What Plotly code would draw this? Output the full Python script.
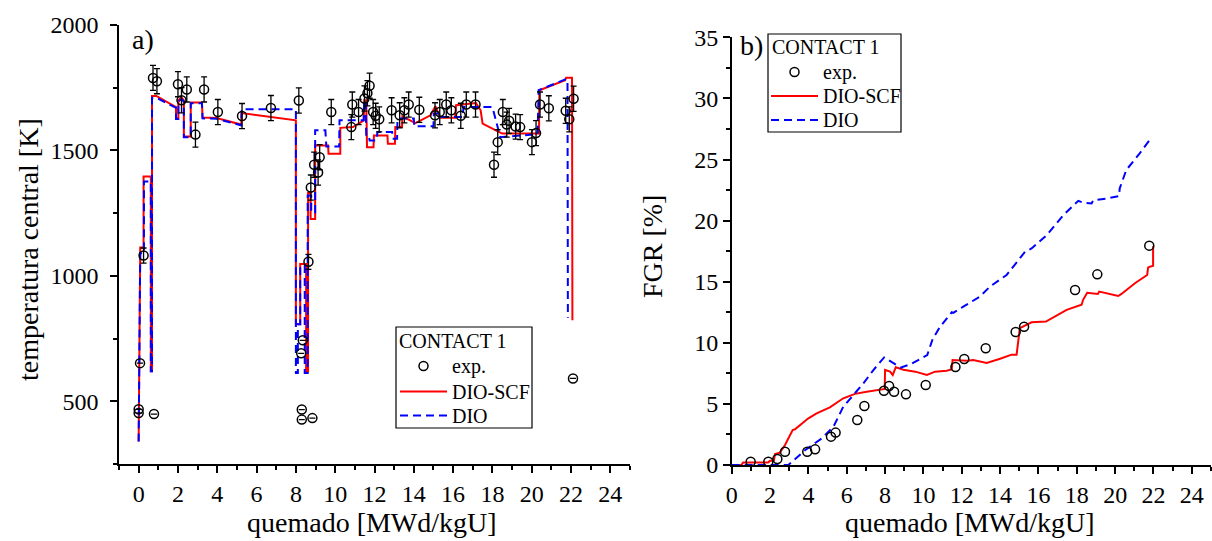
import plotly.graph_objects as go

SERIF = "Liberation Serif"

# ---- a) central temperature vs burnup ----
exp_bu_a = [0.0, 0.0, 0.07, 0.25, 0.78, 0.73, 0.93, 2.0, 2.18, 2.45, 2.89, 3.33, 4.03, 5.26, 6.73,
            8.15, 8.27, 8.35, 8.3, 8.3, 8.84, 8.64, 8.76, 8.93, 9.13, 9.21, 9.8, 10.82, 10.87, 11.19,
            11.49, 11.64, 11.75, 11.93, 12.06, 12.24, 12.87, 13.28, 13.52, 13.74, 14.28, 15.08,
            15.32, 15.65, 15.91, 16.39, 16.67, 17.14, 18.08, 18.27, 18.53, 18.73, 18.85, 19.18,
            19.41, 20.01, 20.22, 20.42, 20.87, 21.73, 21.91, 22.13, 22.1]
exp_tc = [453, 468, 652, 1081, 449, 1789, 1776, 1764, 1700, 1743, 1563, 1743, 1653, 1637, 1669,
          1699, 691, 743, 467, 427, 433, 1056, 1352, 1443, 1412, 1473, 1653, 1593, 1683, 1653,
          1707, 1728, 1758, 1653, 1638, 1624, 1660, 1640, 1660, 1683, 1662, 1640,
          1653, 1683, 1660, 1638, 1683, 1683, 1443, 1533, 1653, 1603, 1618, 1595,
          1593, 1533, 1569, 1683, 1668, 1658, 1624, 1706, 591]
exp_tc_err = [0, 0, 0, 30, 0, 50, 50, 50, 50, 50, 50, 50, 50, 50, 50,
              50, 0, 0, 0, 0, 0, 30, 50, 50, 50, 50, 50, 50, 50, 50,
              50, 50, 50, 50, 50, 50, 50, 50, 50, 50, 50, 50,
              50, 50, 50, 50, 50, 50, 50, 50, 50, 50, 50, 50,
              50, 50, 50, 50, 50, 50, 50, 50, 0]

scf_bu_a = [0.0, 0.08, 0.25, 0.25, 0.62, 0.62, 0.68, 0.68, 0.9, 1.9, 1.9, 2.02, 2.02, 2.18, 2.3,
            2.3, 2.65, 2.65, 3.22, 3.25, 3.96, 5.22, 5.24, 8.0, 8.0, 8.22, 8.22, 8.52, 8.52, 8.62,
            8.62, 8.75, 8.75, 8.98, 8.98, 9.64, 9.66, 10.26, 10.26, 10.9, 11.2, 11.45, 11.48, 11.58,
            11.62, 11.95, 11.97, 12.66, 12.68, 13.04, 13.06, 13.4, 13.42, 14.08, 14.85, 15.1, 15.35,
            16.1, 16.15, 17.16, 17.4, 17.5, 18.3, 18.5, 20.37, 20.39, 21.7, 21.75, 22.05, 22.07]
scf_tc = [340, 1113, 1113, 1396, 1396, 620, 620, 1717, 1717, 1673, 1629, 1629, 1700, 1711, 1700,
          1556, 1556, 1691, 1691, 1631, 1629, 1603, 1649, 1620, 807, 807, 1047, 1047, 620, 620,
          1330, 1330, 1227, 1227, 1520, 1520, 1487, 1487, 1590, 1593, 1607, 1620, 1700, 1700,
          1513, 1513, 1560, 1560, 1527, 1527, 1593, 1593, 1636, 1609, 1640, 1676, 1630,
          1630, 1680, 1689, 1660, 1607, 1575, 1567, 1567, 1740, 1780, 1790, 1790, 823]

dio_bu_a = [0.0, 0.08, 0.27, 0.27, 0.62, 0.62, 0.68, 0.68, 0.9, 1.9, 1.9, 2.02, 2.02, 2.18, 2.3,
            2.3, 2.65, 2.65, 3.22, 3.25, 3.96, 5.22, 5.24, 8.0, 8.0, 8.1, 8.1, 8.22, 8.22, 8.45,
            8.45, 8.6, 8.6, 8.78, 8.78, 8.98, 8.98, 9.5, 9.55, 10.2, 10.22, 11.45, 11.48, 11.55,
            11.58, 11.72, 11.75, 12.1, 12.15, 12.9, 12.92, 13.15, 13.17, 14.0, 14.02, 15.0, 15.02,
            15.4, 15.42, 16.5, 16.52, 18.0, 18.4, 20.3, 20.35, 21.7, 21.82, 21.84]
dio_tc = [340, 1090, 1090, 1376, 1376, 620, 620, 1710, 1710, 1670, 1625, 1625, 1695, 1705, 1695,
          1553, 1553, 1688, 1688, 1628, 1626, 1600, 1664, 1664, 613, 613, 807, 807, 1040, 1040,
          613, 613, 1320, 1320, 1253, 1253, 1580, 1580, 1516, 1516, 1620, 1620, 1700, 1700,
          1553, 1553, 1540, 1540, 1573, 1573, 1547, 1547, 1627, 1627, 1596, 1596, 1647,
          1647, 1633, 1633, 1673, 1673, 1553, 1565, 1740, 1783, 1783, 833]

# ---- b) fission gas release vs burnup ----
exp_bu_b = [0.99, 1.91, 2.38, 2.78, 3.94, 4.35, 5.18, 5.42, 6.55, 6.92, 7.94, 8.21, 8.47, 9.09,
            10.12, 11.67, 12.13, 13.25, 14.81, 15.25, 17.91, 19.07, 21.78]
exp_fgr = [0.27, 0.27, 0.49, 1.09, 1.09, 1.28, 2.32, 2.65, 3.68, 4.83, 6.08, 6.46, 6.0, 5.78,
           6.55, 8.02, 8.67, 9.55, 10.88, 11.32, 14.32, 15.6, 17.95]

scf_bu_b = [0.0, 0.5, 0.6, 1.9, 2.0, 2.2, 2.26, 2.5, 2.78, 3.18, 3.3, 4.0, 4.43, 5.12, 5.82, 6.43,
            7.04, 7.98, 8.0, 8.26, 8.4, 8.45, 8.56, 8.96, 9.57, 10.18, 10.61, 11.22, 11.48, 11.52,
            12.27, 12.6, 13.3, 14.0, 14.6, 14.86, 15.03, 15.64, 16.39, 17.47, 18.25, 18.33, 18.54,
            19.1, 19.17, 20.16, 20.33, 21.03, 21.67, 21.72, 21.98, 21.98]
scf_fgr = [0.0, 0.0, 0.2, 0.2, 0.35, 0.35, 0.9, 1.0, 1.64, 2.86, 2.92, 3.82, 4.23, 4.72, 5.46, 5.82,
           6.0, 6.23, 7.78, 7.64, 7.37, 7.6, 8.0, 7.8, 7.64, 7.37, 7.64, 7.72, 7.83, 8.59,
           8.54, 8.6, 8.35, 8.7, 9.03, 9.03, 11.2, 11.68, 11.74, 12.7, 13.11, 13.52, 14.1,
           14.0, 14.19, 13.83, 14.0, 14.87, 15.55, 16.17, 16.3, 17.9]

dio_bu_b = [0.0, 2.95, 3.1, 3.84, 4.7, 5.31, 5.82, 6.35, 6.87, 7.39, 7.95, 8.6, 8.8, 9.36, 10.2,
            10.48, 10.87, 11.48, 11.56, 12.08, 12.95, 13.47, 14.34, 15.3, 15.64, 16.43, 17.3,
            18.08, 18.34, 18.77, 18.86, 19.55, 20.2, 20.24, 20.58, 21.28, 21.8]
dio_fgr = [0.0, 0.0, 0.2, 1.23, 2.18, 3.14, 4.77, 5.73, 6.68, 7.77, 8.8, 8.18, 7.96, 8.26, 9.0,
           10.3, 11.32, 12.5, 12.45, 12.96, 13.78, 14.6, 15.55, 17.45, 17.72, 18.81, 20.45,
           21.62, 21.45, 21.4, 21.67, 21.8, 22.0, 22.64, 24.14, 25.5, 26.6]

x_ticks = list(range(0, 25, 2))
legend_title = "CONTACT 1"
series_names = ["exp.", "DIO-SCF", "DIO"]

RED = "#ff0000"
BLUE = "#0000ff"
DASH = "8px,5px"
W, H = 1212, 541

marker_style = dict(symbol="circle-open", size=9, color="black", line=dict(width=1.5, color="black"))

fig = go.Figure()

# panel a
fig.add_trace(go.Scatter(x=scf_bu_a, y=scf_tc, mode="lines", name=series_names[1],
                         line=dict(color=RED, width=2), xaxis="x", yaxis="y", showlegend=False))
fig.add_trace(go.Scatter(x=dio_bu_a, y=dio_tc, mode="lines", name=series_names[2],
                         line=dict(color=BLUE, width=2, dash=DASH), xaxis="x", yaxis="y",
                         showlegend=False))
fig.add_trace(go.Scatter(x=exp_bu_a, y=exp_tc, mode="markers", name=series_names[0],
                         marker=marker_style,
                         error_y=dict(type="data", array=exp_tc_err, visible=True,
                                      color="black", thickness=1.3, width=3),
                         xaxis="x", yaxis="y", showlegend=False))

# panel b
fig.add_trace(go.Scatter(x=scf_bu_b, y=scf_fgr, mode="lines", name=series_names[1],
                         line=dict(color=RED, width=2), xaxis="x2", yaxis="y2", showlegend=False))
fig.add_trace(go.Scatter(x=dio_bu_b, y=dio_fgr, mode="lines", name=series_names[2],
                         line=dict(color=BLUE, width=2, dash=DASH), xaxis="x2", yaxis="y2",
                         showlegend=False))
fig.add_trace(go.Scatter(x=exp_bu_b, y=exp_fgr, mode="markers", name=series_names[0],
                         marker=marker_style, xaxis="x2", yaxis="y2", showlegend=False))

axis_common = dict(showline=True, linecolor="black", linewidth=1.5, ticks="outside",
                   ticklen=7, tickwidth=1.5, tickcolor="black", showgrid=False,
                   zeroline=False, automargin=False,
                   tickfont=dict(family=SERIF, size=24, color="black"))


def minor(step):
    return dict(dtick=step, tick0=0, ticks="outside", ticklen=4, tickwidth=1.5, tickcolor="black")


fig.update_layout(
    width=W, height=H,
    margin=dict(l=0, r=0, t=0, b=0),
    paper_bgcolor="white", plot_bgcolor="white",
    font=dict(family=SERIF, color="black"),
    showlegend=False,
    xaxis=dict(domain=[119 / W, 630 / W], range=[-1, 25], tickvals=x_ticks, minor=minor(1),
               anchor="y", **axis_common),
    yaxis=dict(domain=[1 - 464 / H, 1 - 25 / H], range=[250, 2000],
               tickvals=[500, 1000, 1500, 2000], minor=minor(250), anchor="x",
               ticklabelstandoff=7, **axis_common),
    xaxis2=dict(domain=[731.7 / W, 1211 / W], range=[0, 25], tickvals=x_ticks, minor=minor(1),
                anchor="y2", **axis_common),
    yaxis2=dict(domain=[1 - 465 / H, 1 - 37.3 / H], range=[0, 35], dtick=5, tick0=0,
                minor=minor(2.5), anchor="x2", **axis_common),
)


def px(x):
    return x / W


def py(y):
    return 1 - y / H


text_font = dict(family=SERIF, size=20, color="black")


def add_key(box, title_pos, sym_x, txt_x, rows_y):
    """Key box: title, open-circle sample, solid red and dashed blue samples."""
    x0, y0, x1, y1 = box
    fig.add_shape(type="rect", xref="paper", yref="paper", x0=px(x0), x1=px(x1),
                  y0=py(y1), y1=py(y0), line=dict(color="black", width=1.2),
                  fillcolor="white", layer="above")
    fig.add_annotation(xref="paper", yref="paper", x=px(title_pos[0]), y=py(title_pos[1]),
                       text=legend_title, showarrow=False, xanchor="left", yanchor="middle",
                       font=text_font)
    sx0, sx1 = sym_x
    cx = (sx0 + sx1) / 2
    r = 4.5
    fig.add_shape(type="circle", xref="paper", yref="paper", x0=px(cx - r), x1=px(cx + r),
                  y0=py(rows_y[0] + r), y1=py(rows_y[0] - r),
                  line=dict(color="black", width=1.5), layer="above")
    fig.add_shape(type="line", xref="paper", yref="paper", x0=px(sx0), x1=px(sx1),
                  y0=py(rows_y[1]), y1=py(rows_y[1]), line=dict(color=RED, width=2),
                  layer="above")
    fig.add_shape(type="line", xref="paper", yref="paper", x0=px(sx0), x1=px(sx1),
                  y0=py(rows_y[2]), y1=py(rows_y[2]), line=dict(color=BLUE, width=2, dash=DASH),
                  layer="above")
    for name, ry in zip(series_names, rows_y):
        fig.add_annotation(xref="paper", yref="paper", x=px(txt_x), y=py(ry), text=name,
                           showarrow=False, xanchor="left", yanchor="middle", font=text_font)


add_key((396, 327, 532, 428), (397, 341), (400, 447), 450, (366, 391.5, 415.5))
add_key((768, 34, 901, 132), (770, 47), (771, 818), 821, (72, 96, 120))

ann_font = dict(family=SERIF, size=28, color="black")
annotations = [
    dict(text="a)", x=130 / W, y=1 - 39 / H, xanchor="left", yanchor="middle"),
    dict(text="b)", x=738 / W, y=1 - 46 / H, xanchor="left", yanchor="middle"),
    dict(text="quemado [MWd/kgU]", x=372 / W, y=1 - 522 / H, xanchor="center", yanchor="middle"),
    dict(text="quemado [MWd/kgU]", x=970 / W, y=1 - 522 / H, xanchor="center", yanchor="middle"),
    dict(text="temperatura central [K]", x=28 / W, y=1 - 250 / H, xanchor="center",
         yanchor="middle", textangle=-90),
    dict(text="FGR [%]", x=652 / W, y=1 - 247 / H, xanchor="center", yanchor="middle",
         textangle=-90),
]
for a in annotations:
    fig.add_annotation(xref="paper", yref="paper", showarrow=False, font=ann_font, **a)

fig.write_html("out.html")
